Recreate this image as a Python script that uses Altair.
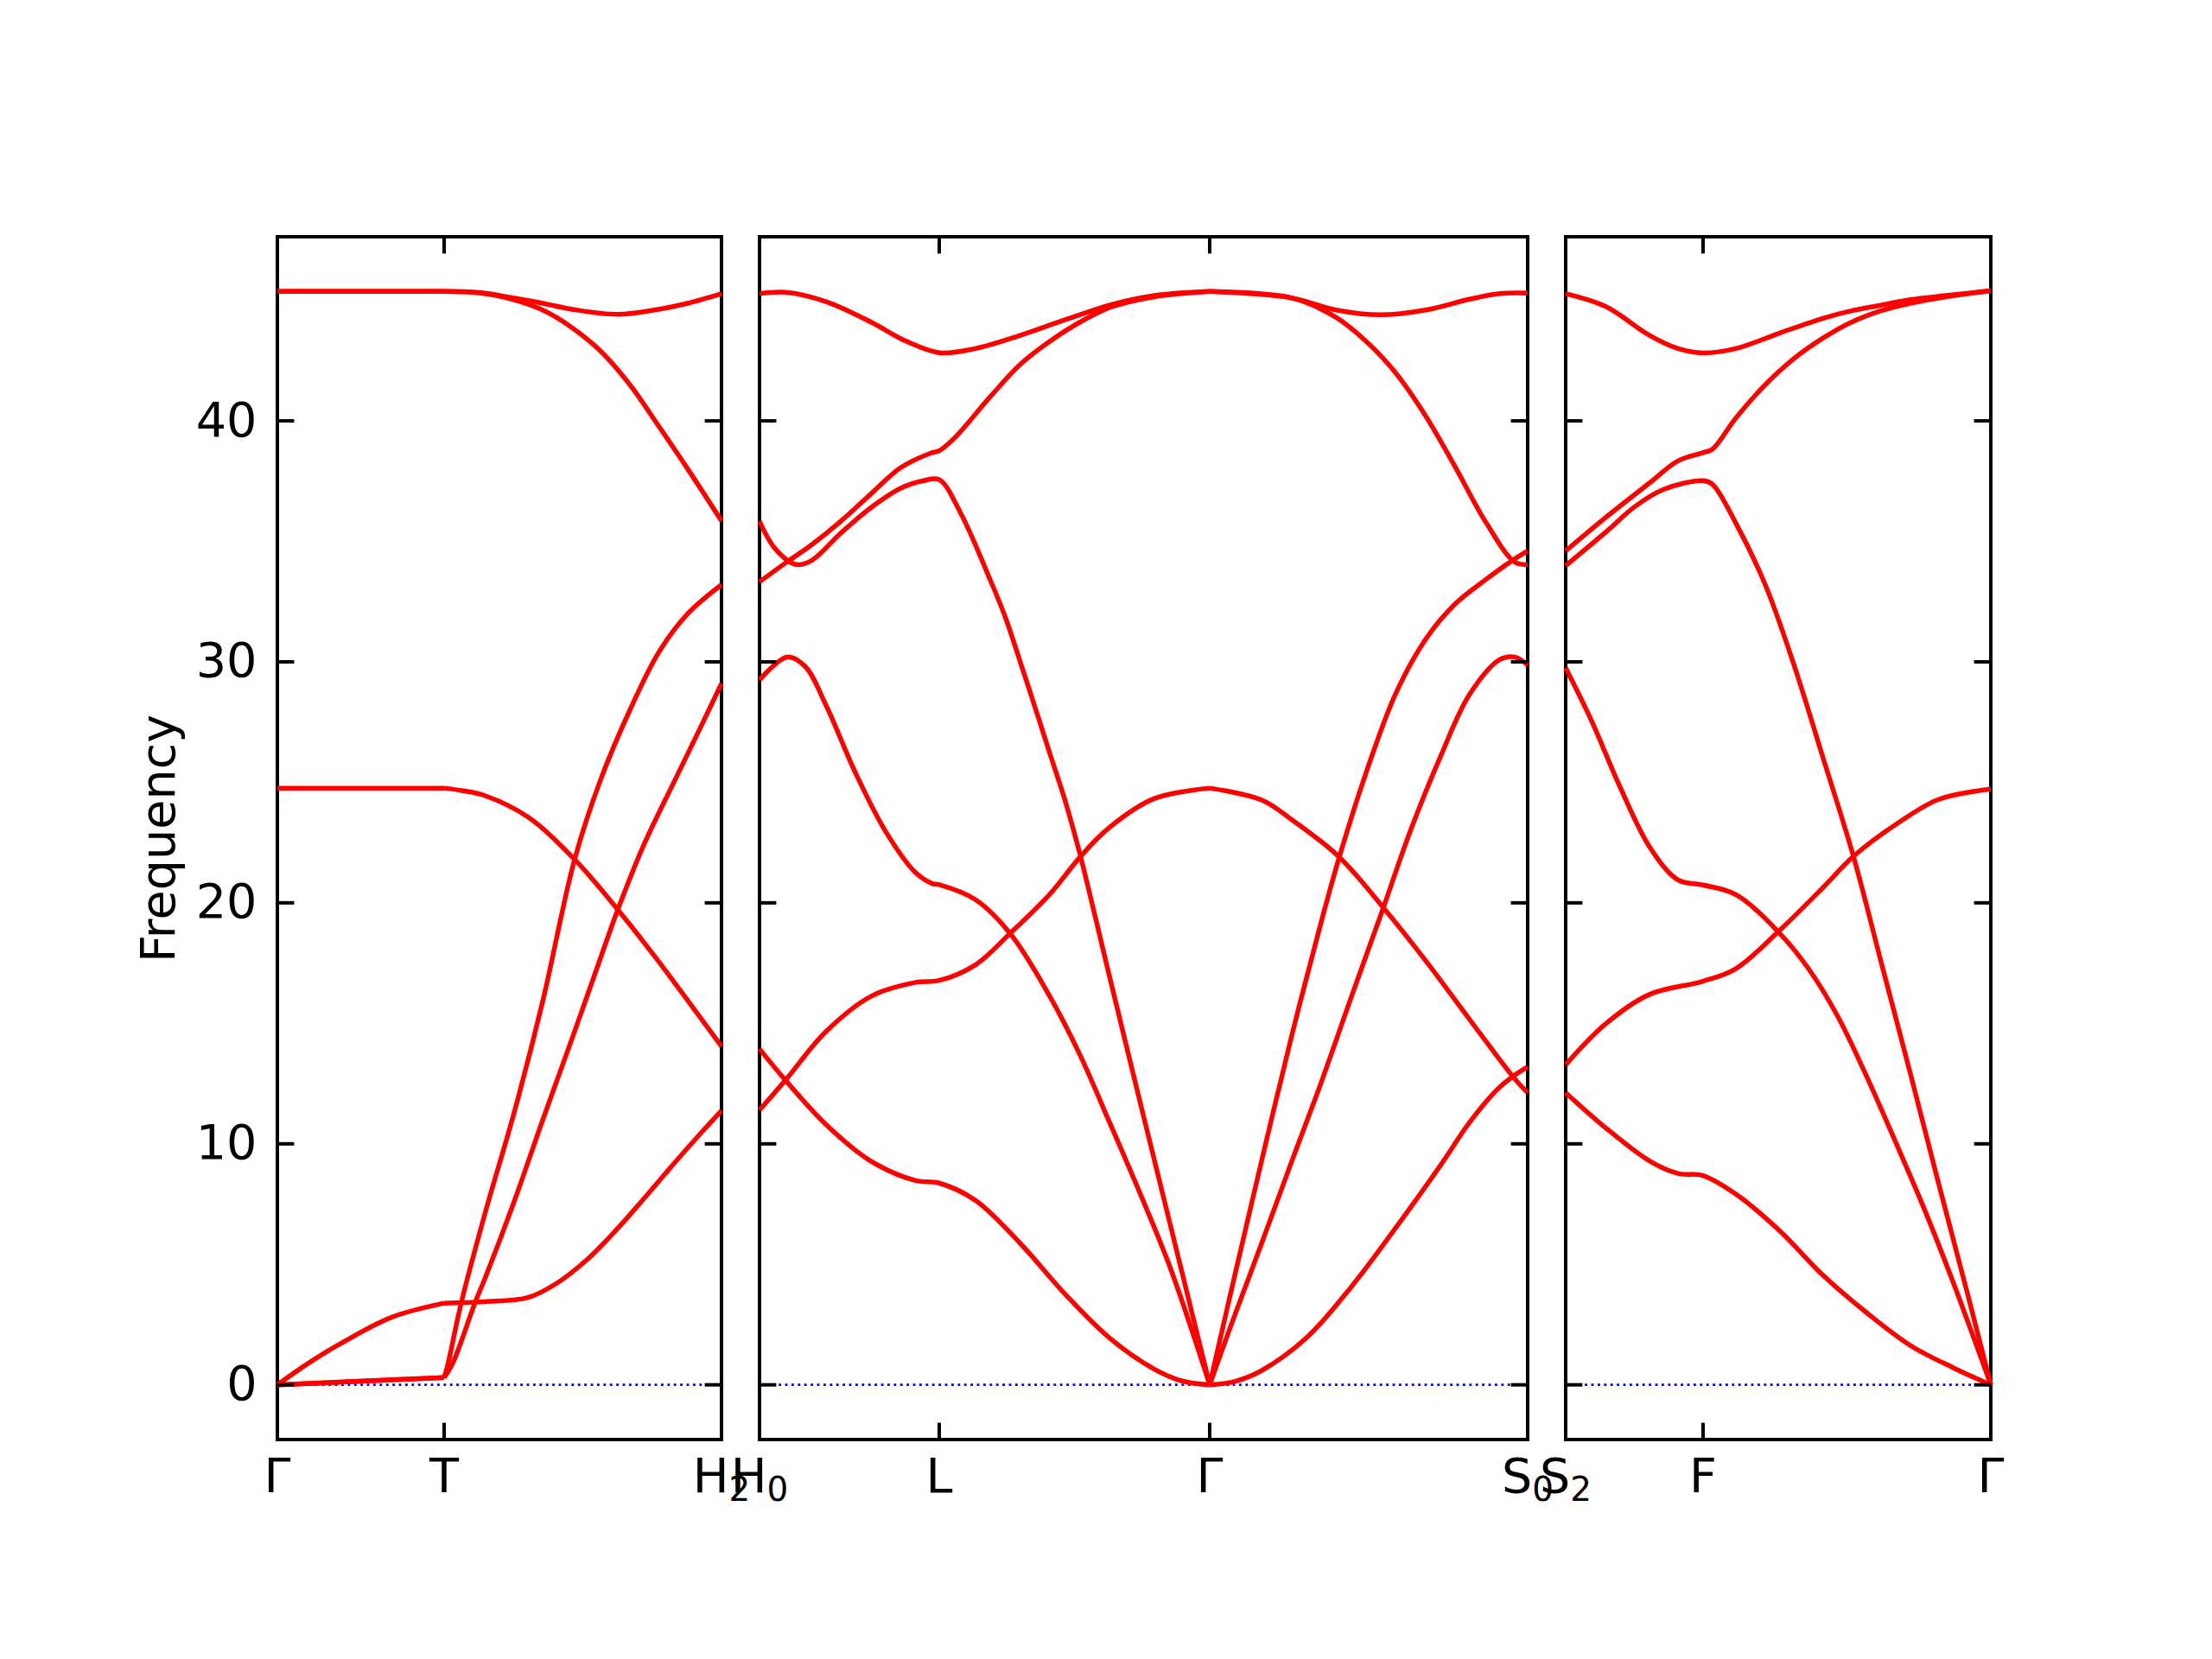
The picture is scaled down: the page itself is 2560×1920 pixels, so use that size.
import altair as alt
import pandas as pd

FONT = "DejaVu Sans"
FS = 55.6
SUB_FS = 38.9
H = 1392
TICK_LEN = 19.4

Y_TICKS = [0, 10, 20, 30, 40]
Y_DOMAIN = [-2.27, 47.64]

# ---------------- Panel 1: Γ - T - H2 ----------------
P1_LEN = 514
P1_TICKS = [0, 193, 514]
P1_LABELS = [("Γ", ""), ("T", ""), ("H", "2")]
P1_BREAKS = [193]
P1_B1 = [(0, 45.37), (193, 45.37), (240, 45.3), (270, 45.12), (307, 44.88), (341, 44.63), (394, 44.42),
         (441, 44.63), (475, 44.88), (514, 45.28)]
P1_B2 = [(0, 45.37), (193, 45.37), (230, 45.33), (266, 45.1), (307, 44.6), (341, 43.87), (374, 42.9),
         (408, 41.5), (441, 39.8), (475, 38.0), (514, 35.85)]
P1_B3 = [(0, 24.76), (193, 24.76), (215, 24.65), (240, 24.45), (290, 23.56), (344, 21.8), (394, 19.72),
         (441, 17.58), (478, 15.8), (514, 14.05)]
P1_B4 = [(0, 0.0), (36, 0.9), (75, 1.75), (132, 2.8), (193, 3.39), (240, 3.45), (290, 3.62), (324, 4.23),
         (357, 5.15), (391, 6.38), (425, 7.76), (458, 9.14), (492, 10.52), (514, 11.38)]
P1_B5 = [(0, 0.0), (96, 0.15), (193, 0.3), (203, 0.9), (229, 3.43), (240, 4.39), (274, 7.6), (307, 10.98),
         (341, 14.36), (369, 17.2), (394, 19.72), (425, 22.48), (458, 24.94), (492, 27.45), (514, 29.1)]
P1_B6 = [(0, 0.0), (96, 0.15), (193, 0.3), (197, 0.8), (213, 3.43), (241, 7.2), (274, 11.29), (307, 15.9),
         (344, 21.8), (374, 25.1), (408, 28.0), (441, 30.37), (475, 32.0), (514, 33.2)]

# ---------------- Panel 2: H0 - L - Γ - S0 ----------------
P2_LEN = 889
P2_TICKS = [0, 208, 521, 889]
P2_LABELS = [("H", "0"), ("L", ""), ("Γ", ""), ("S", "0")]
P2_BREAKS = [521]
P2_C1 = [(0, 45.28), (30, 45.34), (77, 44.95), (129, 44.1), (170, 43.3), (208, 42.83), (250, 43.0),
         (302, 43.55), (354, 44.2), (405, 44.8), (457, 45.2), (521, 45.37), (616, 45.1), (667, 44.6),
         (719, 44.4), (771, 44.6), (822, 45.05), (857, 45.28), (889, 45.3)]
P2_C2 = [(0, 35.83), (18, 34.7), (42, 34.04), (60, 34.2), (94, 35.34), (129, 36.4), (163, 37.2),
         (190, 37.52), (208, 37.56), (233, 36.16), (267, 33.4), (284, 31.9), (302, 29.97), (319, 28.1),
         (336, 26.2), (354, 24.2), (371, 22.0), (388, 19.5), (405, 16.95), (440, 11.8), (475, 6.7),
         (521, 0.0), (547, 4.07), (581, 9.28), (616, 14.5), (650, 19.2), (671, 21.9), (702, 25.4),
         (736, 28.66), (771, 30.94), (805, 32.4), (840, 33.4), (874, 34.27), (889, 34.6)]
P2_C3 = [(0, 33.32), (30, 34.1), (60, 34.85), (94, 35.83), (129, 36.97), (163, 38.05), (198, 38.66),
         (208, 38.76), (226, 39.3), (267, 41.0), (302, 42.35), (336, 43.3), (371, 44.1), (405, 44.7),
         (457, 45.15), (521, 45.37), (616, 45.1), (667, 44.3), (702, 43.3), (736, 42.0), (771, 40.2),
         (805, 38.1), (840, 35.83), (874, 34.14), (889, 34.04)]
P2_C4 = [(0, 29.25), (32, 30.2), (53, 29.8), (77, 28.2), (111, 25.4), (146, 22.96), (181, 21.24),
         (200, 20.8), (208, 20.75), (250, 20.13), (290, 18.73), (336, 16.12), (371, 13.68), (405, 10.9),
         (440, 7.98), (475, 4.89), (521, 0.0), (547, 2.6), (581, 5.86), (616, 9.28), (650, 12.54),
         (685, 16.1), (722, 19.8), (753, 22.96), (788, 26.06), (822, 28.66), (857, 30.1), (874, 30.2),
         (889, 29.87)]
P2_C5 = [(0, 13.94), (30, 12.64), (77, 10.8), (129, 9.28), (181, 8.47), (208, 8.37), (250, 7.65),
         (302, 5.86), (354, 3.75), (405, 1.95), (457, 0.65), (490, 0.15), (521, 0.0), (550, 0.14),
         (581, 0.59), (633, 1.95), (685, 4.07), (736, 6.5), (788, 9.1), (822, 10.9), (855, 12.3),
         (874, 12.85), (889, 13.2)]
P2_C6 = [(0, 11.4), (30, 12.64), (77, 14.66), (129, 16.12), (181, 16.7), (208, 16.78), (250, 17.43),
         (290, 18.73), (336, 20.36), (371, 21.9), (405, 23.13), (457, 24.33), (521, 24.76), (581, 24.27),
         (616, 23.45), (671, 21.9), (722, 19.8), (771, 17.6), (822, 15.15), (874, 12.7), (889, 12.12)]

# ---------------- Panel 3: S2 - F - Γ ----------------
P3_LEN = 492
P3_TICKS = [0, 159, 492]
P3_LABELS = [("S", "2"), ("F", ""), ("Γ", "")]
P3_BREAKS = []
P3_D1 = [(0, 45.28), (46, 44.75), (97, 43.55), (130, 43.0), (159, 42.82), (197, 43.0), (248, 43.65),
         (298, 44.26), (331, 44.57), (365, 44.8), (399, 45.03), (440, 45.2), (492, 45.4)]
P3_D2 = [(0, 34.6), (46, 35.98), (97, 37.42), (130, 38.34), (159, 38.68), (170, 38.83), (197, 40.12),
         (231, 41.5), (264, 42.58), (298, 43.44), (331, 44.1), (365, 44.57), (399, 44.88), (440, 45.15),
         (492, 45.4)]
P3_D3 = [(0, 33.99), (46, 35.37), (80, 36.44), (113, 37.15), (159, 37.52), (170, 37.36), (197, 35.75),
         (231, 33.2), (264, 29.9), (298, 26.0), (333, 21.93), (365, 17.55), (399, 12.9), (432, 8.3),
         (466, 3.65), (492, 0.0)]
P3_D4 = [(0, 29.75), (30, 27.55), (63, 24.8), (97, 22.33), (130, 20.95), (159, 20.74), (197, 20.34),
         (246, 18.8), (281, 17.27), (315, 15.28), (348, 12.82), (382, 10.06), (415, 7.3), (449, 4.2),
         (492, 0.0)]
P3_D5 = [(0, 13.28), (46, 14.97), (97, 16.2), (159, 16.75), (197, 17.27), (246, 18.8), (298, 20.64),
         (333, 21.93), (382, 23.25), (432, 24.3), (492, 24.72)]
P3_D6 = [(0, 12.12), (46, 10.67), (97, 9.29), (130, 8.77), (159, 8.68), (197, 7.91), (248, 6.38),
         (298, 4.54), (348, 3.0), (399, 1.63), (449, 0.7), (492, 0.0)]

# advance widths (em) of DejaVu Sans glyphs, used to centre the composed labels
ADV = {"Γ": 0.557, "T": 0.611, "H": 0.752, "L": 0.557, "S": 0.635, "F": 0.575, "0": 0.636, "2": 0.636}


def build_panel(bands, length, breaks, ticks, labels, show_y):
    rows = []
    bounds = [0] + breaks + [length]
    for bi, pts in enumerate(bands):
        for si in range(len(bounds) - 1):
            a, b = bounds[si], bounds[si + 1]
            for k, f in pts:
                if a <= k <= b:
                    rows.append({"k": k, "f": f, "seg": f"b{bi}s{si}"})
    df = pd.DataFrame(rows)

    xs = alt.X("k:Q", scale=alt.Scale(domain=[0, length], nice=False, zero=False), axis=None)
    if show_y:
        yaxis = alt.Axis(values=Y_TICKS, ticks=False, tickSize=0, domain=False, grid=False,
                         labelFont=FONT, labelFontSize=FS, labelColor="black", labelPadding=24,
                         labelOverlap=False, labelFlush=False, format="d",
                         title="Frequency", titleFont=FONT, titleFontSize=FS,
                         titleFontWeight="normal", titleColor="black", titlePadding=13)
    else:
        yaxis = None
    ys = alt.Y("f:Q", scale=alt.Scale(domain=Y_DOMAIN, nice=False, zero=False), axis=yaxis)

    zero = alt.Chart(pd.DataFrame({"f": [0.0]})).mark_rule(
        color="#0000ff", strokeWidth=2.8, strokeDash=[2.8, 4.6]
    ).encode(y=ys, x=alt.value(0), x2=alt.value(length))

    lines = alt.Chart(df).mark_line(
        color="#ff0000", strokeWidth=5.5, interpolate="catmull-rom"
    ).encode(x=xs, y=ys, detail="seg:N", order="k:Q")

    ydf = pd.DataFrame({"f": Y_TICKS})
    ytl = alt.Chart(ydf).mark_rule(color="black", strokeWidth=4).encode(
        y=ys, x=alt.value(0), x2=alt.value(TICK_LEN))
    ytr = alt.Chart(ydf).mark_rule(color="black", strokeWidth=4).encode(
        y=ys, x=alt.value(length - TICK_LEN), x2=alt.value(length))
    xdf = pd.DataFrame({"k": ticks})
    xtt = alt.Chart(xdf).mark_rule(color="black", strokeWidth=4).encode(
        x=xs, y=alt.value(0), y2=alt.value(TICK_LEN))
    xtb = alt.Chart(xdf).mark_rule(color="black", strokeWidth=4).encode(
        x=xs, y=alt.value(H - TICK_LEN), y2=alt.value(H))

    main_rows, sub_rows = [], []
    for t, (m, s) in zip(ticks, labels):
        wm = ADV[m] * FS
        ws = ADV[s] * SUB_FS if s else 0.0
        left = t - (wm + ws) / 2.0
        main_rows.append({"k": left, "txt": m})
        if s:
            sub_rows.append({"k": left + wm, "txt": s})
    lab_main = alt.Chart(pd.DataFrame(main_rows)).mark_text(
        align="left", baseline="alphabetic", font=FONT, fontSize=FS, color="black"
    ).encode(x=xs, y=alt.value(H + 61), text="txt:N")
    layers = [zero, lines, ytl, ytr, xtt, xtb, lab_main]
    if sub_rows:
        lab_sub = alt.Chart(pd.DataFrame(sub_rows)).mark_text(
            align="left", baseline="alphabetic", font=FONT, fontSize=SUB_FS, color="black"
        ).encode(x=xs, y=alt.value(H + 71), text="txt:N")
        layers.append(lab_sub)
    return alt.layer(*layers).properties(width=length, height=H)


p1 = build_panel([P1_B1, P1_B2, P1_B3, P1_B4, P1_B5, P1_B6], P1_LEN, P1_BREAKS, P1_TICKS, P1_LABELS, True)
p2 = build_panel([P2_C1, P2_C2, P2_C3, P2_C4, P2_C5, P2_C6], P2_LEN, P2_BREAKS, P2_TICKS, P2_LABELS, False)
p3 = build_panel([P3_D1, P3_D2, P3_D3, P3_D4, P3_D5, P3_D6], P3_LEN, P3_BREAKS, P3_TICKS, P3_LABELS, False)

chart = alt.hconcat(p1, p2, p3, spacing=44, bounds="flush").properties(
    padding={"left": 147, "top": 262, "right": 30, "bottom": 30},
    background="white",
).configure_view(stroke="black", strokeWidth=4)

chart.save("out.html", embed_options={"renderer": "svg", "actions": False})
